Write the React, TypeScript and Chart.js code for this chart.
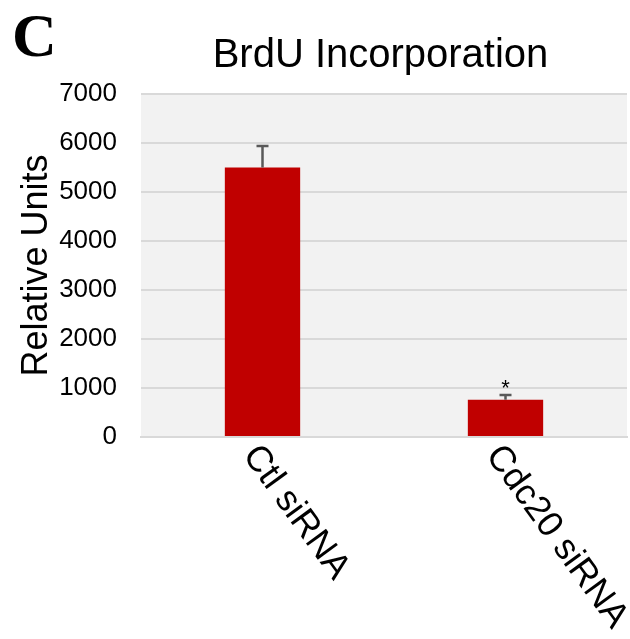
import React, { useEffect, useRef } from "react";
import { Chart, registerables } from "chart.js";

Chart.register(...registerables);

// Measurements: BrdU incorporation after siRNA knock-down
const categories = ["Ctl siRNA", "Cdc20 siRNA"];
const means = [5500, 760];
const errorsUp = [440, 95];
const significance = ["", "*"];
const yMin = 0;
const yMax = 7000;
const yStep = 1000;

const FONT = "'Liberation Sans', Arial, sans-serif";
const BAR_RED = "#c00000";
const GRID = "#d9d9d9";
const PLOT_BG = "#f2f2f2";
const ERR = "#595959";

const panelPlugin = {
  id: "panelDecor",
  beforeDraw(chart: any) {
    const { ctx, chartArea } = chart;
    ctx.save();
    ctx.fillStyle = PLOT_BG;
    ctx.fillRect(
      chartArea.left,
      chartArea.top,
      chartArea.right - chartArea.left,
      chartArea.bottom - chartArea.top
    );
    ctx.restore();
  },
  afterDatasetsDraw(chart: any) {
    const { ctx } = chart;
    const xs = chart.scales.x;
    const ys = chart.scales.y;
    ctx.save();
    ctx.strokeStyle = ERR;
    ctx.lineWidth = 2.5;
    means.forEach((m, i) => {
      const x = xs.getPixelForValue(i);
      const yBase = ys.getPixelForValue(m);
      const yTop = ys.getPixelForValue(m + errorsUp[i]);
      ctx.beginPath();
      ctx.moveTo(x, yBase);
      ctx.lineTo(x, yTop);
      ctx.moveTo(x - 6, yTop);
      ctx.lineTo(x + 6, yTop);
      ctx.stroke();
      if (significance[i]) {
        ctx.fillStyle = "#000";
        ctx.font = `22px ${FONT}`;
        ctx.textAlign = "center";
        ctx.textBaseline = "alphabetic";
        ctx.fillText(significance[i], x, yTop);
      }
    });
    ctx.restore();
  },
  afterDraw(chart: any) {
    const { ctx, chartArea } = chart;
    const xs = chart.scales.x;
    ctx.save();
    // chart title
    ctx.fillStyle = "#000";
    ctx.font = `40px ${FONT}`;
    ctx.textAlign = "center";
    ctx.textBaseline = "alphabetic";
    ctx.fillText("BrdU Incorporation", (chartArea.left + chartArea.right) / 2 - 3.5, 67);
    // panel letter
    ctx.font = `bold 62px 'Liberation Serif', 'Times New Roman', serif`;
    ctx.textAlign = "left";
    ctx.fillText("C", 12, 56);
    // slanted category labels
    ctx.font = `36px ${FONT}`;
    ctx.textBaseline = "middle";
    ctx.textAlign = "left";
    const angle = (54 * Math.PI) / 180;
    categories.forEach((c, i) => {
      const x = xs.getPixelForValue(i) - 12.5;
      const y = chartArea.bottom + 12.5;
      ctx.save();
      ctx.translate(x, y);
      ctx.rotate(angle);
      ctx.fillText(c, 0, 0);
      ctx.restore();
    });
    ctx.restore();
  },
};

export default function App() {
  const canvasRef = useRef<HTMLCanvasElement | null>(null);

  useEffect(() => {
    if (!canvasRef.current) return;
    const chart = new Chart(canvasRef.current, {
      type: "bar",
      data: {
        labels: categories,
        datasets: [
          {
            data: means,
            backgroundColor: BAR_RED,
            borderWidth: 0,
            barPercentage: 0.31,
            categoryPercentage: 1,
          },
        ],
      },
      options: {
        responsive: false,
        animation: false,
        devicePixelRatio: 1,
        layout: { padding: { left: 0, right: 3, top: 94, bottom: 0 } },
        plugins: {
          legend: { display: false },
          tooltip: { enabled: false },
          title: { display: false },
        },
        scales: {
          x: {
            grid: { display: false, drawTicks: false },
            border: { display: true, color: GRID, width: 2 },
            ticks: { display: false },
            afterFit: (scale: any) => {
              scale.height = 202;
            },
          },
          y: {
            min: yMin,
            max: yMax,
            grid: { color: GRID, lineWidth: 2, drawTicks: false },
            border: { display: false },
            ticks: {
              stepSize: yStep,
              padding: 24,
              color: "#000",
              font: { family: FONT, size: 26 },
              callback: (v: any) => String(v),
            },
            title: {
              display: true,
              text: "Relative Units",
              color: "#000",
              font: { family: FONT, size: 36 },
              padding: { top: 15, bottom: 0 },
            },
            afterFit: (scale: any) => {
              scale.width = 141;
            },
          },
        },
      },
      plugins: [panelPlugin],
    });
    return () => chart.destroy();
  }, []);

  return (
    <div style={{ position: "absolute", left: 0, top: 0, width: 630, height: 639, background: "#fff" }}>
      <canvas ref={canvasRef} width={630} height={639} />
    </div>
  );
}
